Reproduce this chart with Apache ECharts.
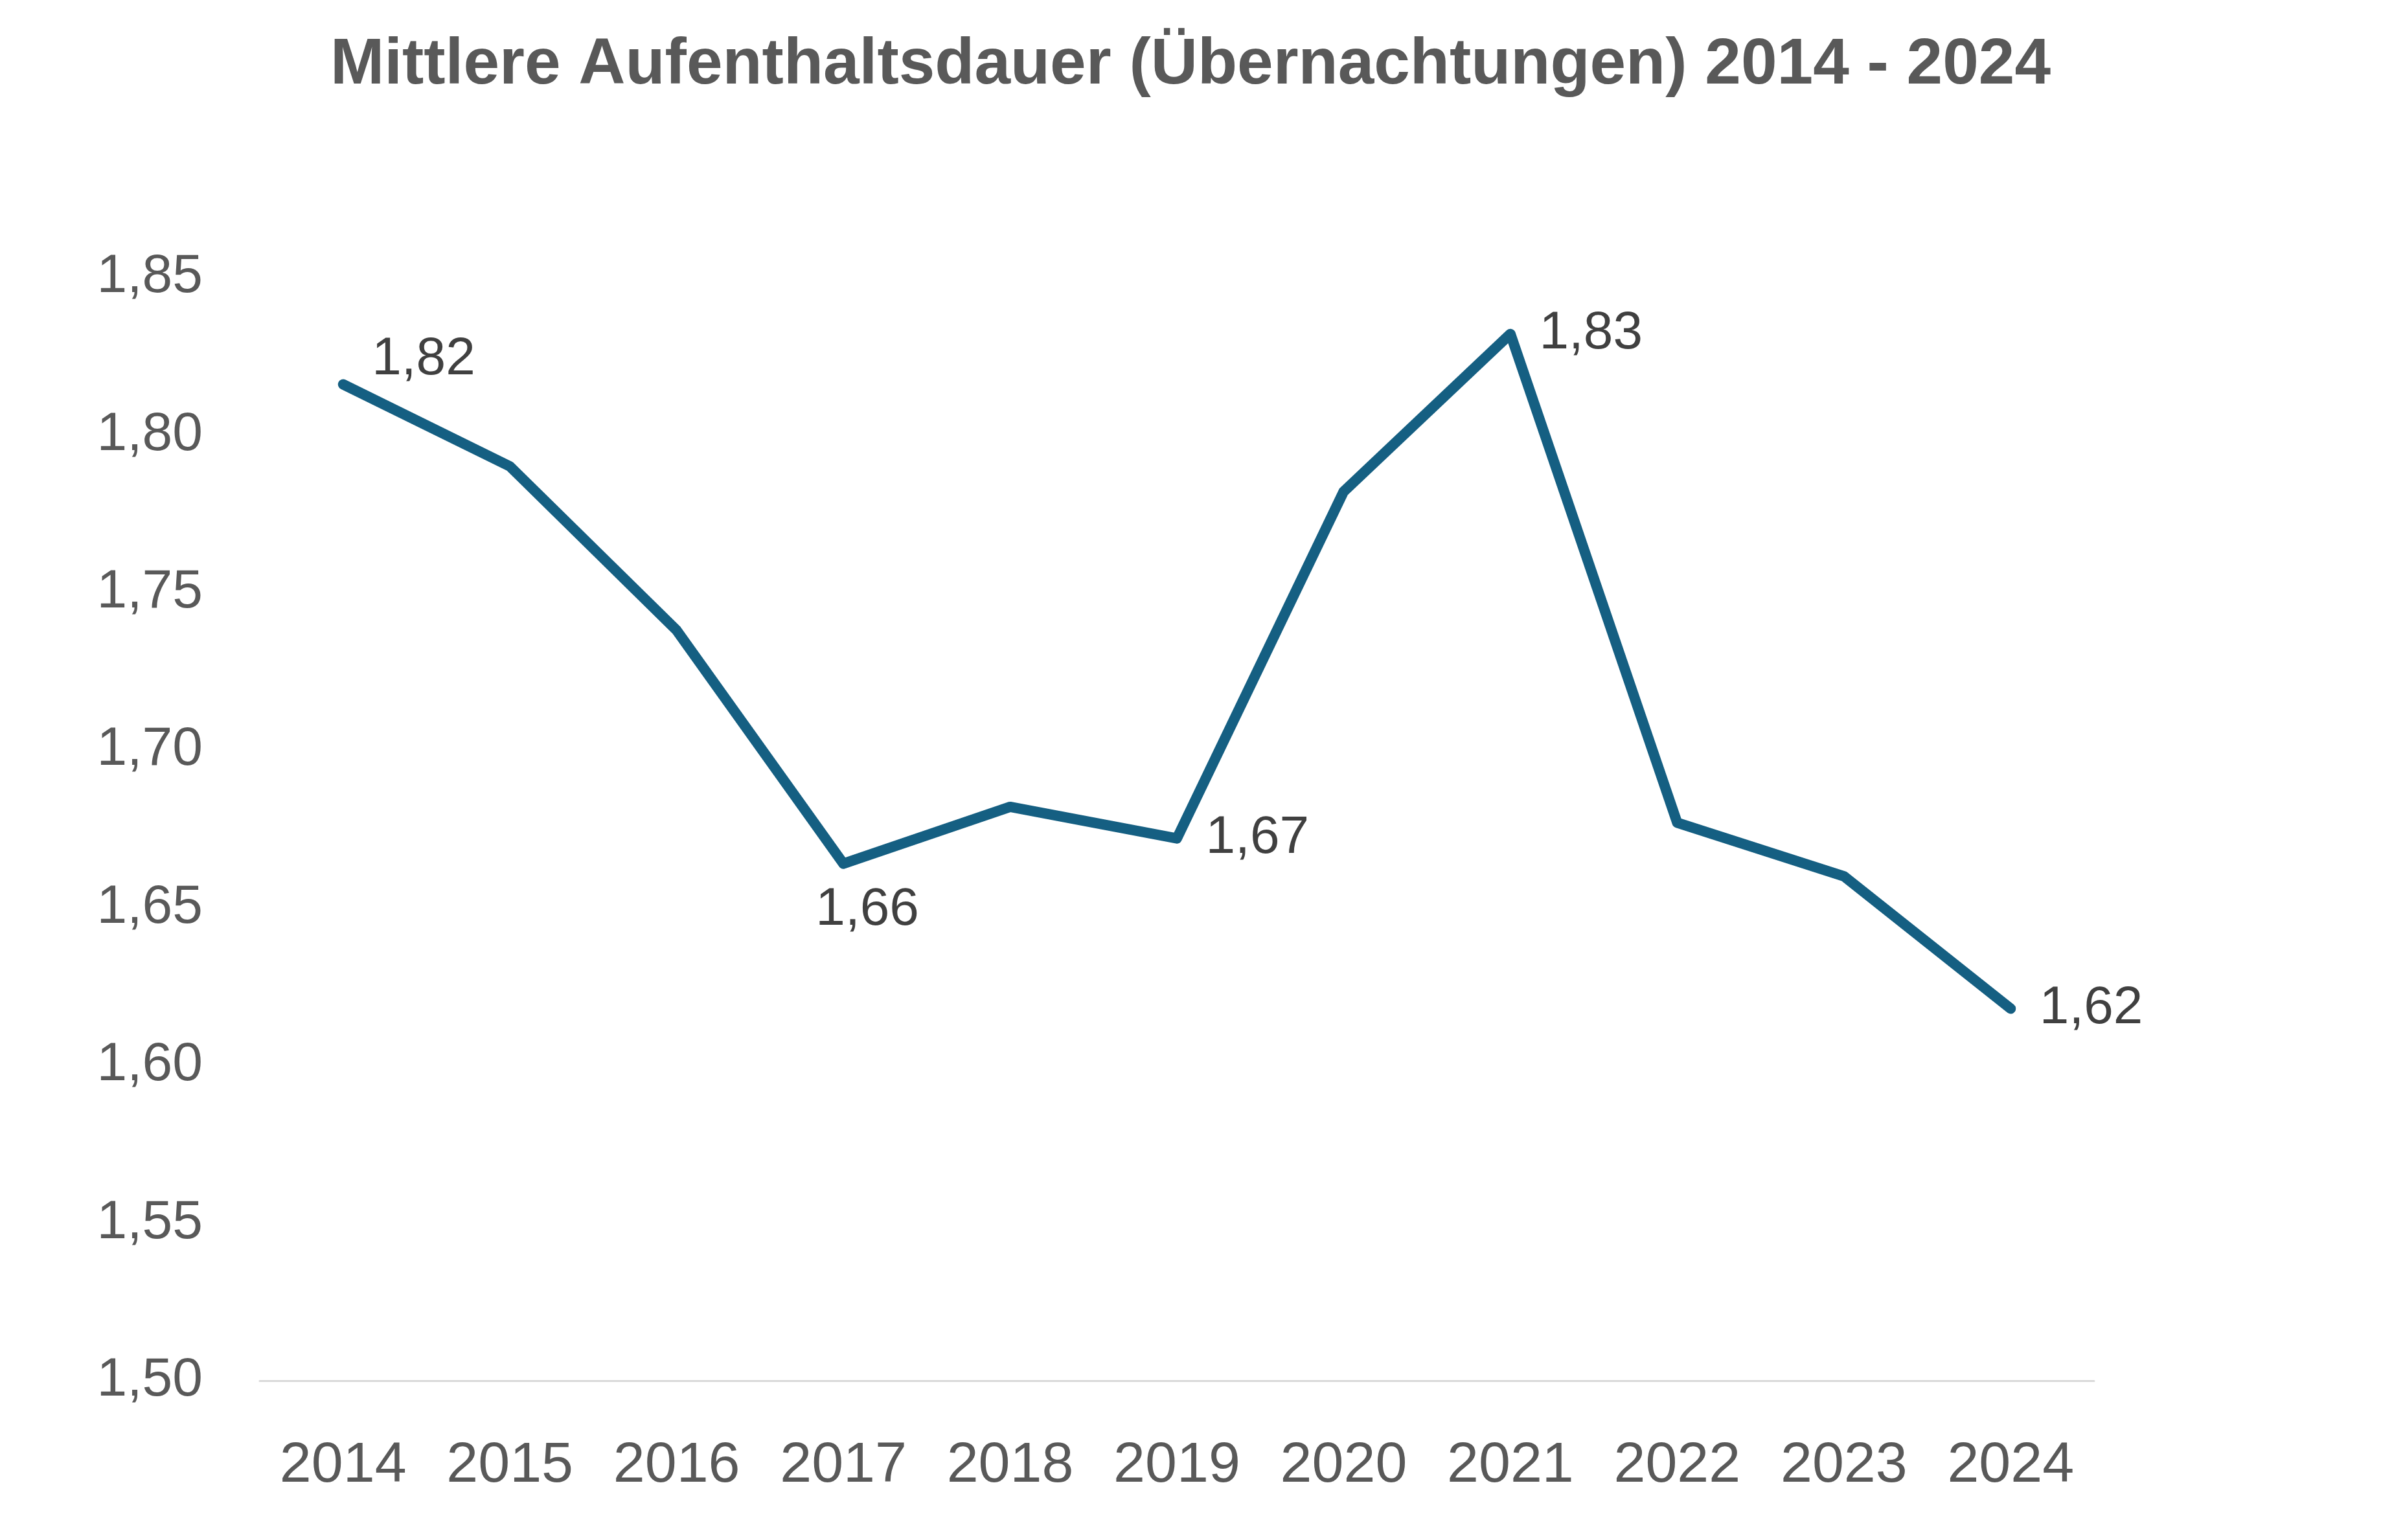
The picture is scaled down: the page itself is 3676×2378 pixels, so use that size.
<!DOCTYPE html>
<html>
<head>
<meta charset="utf-8">
<title>Mittlere Aufenthaltsdauer</title>
<script src="https://cdn.jsdelivr.net/npm/echarts@6/dist/echarts.min.js"></script>
<style>
  html, body { margin: 0; padding: 0; background: #ffffff; }
  #chart { width: 3676px; height: 2378px; }
</style>
</head>
<body>
<div id="chart"></div>
<script>
// Jahre und Werte
var years = ['2014', '2015', '2016', '2017', '2018', '2019', '2020', '2021', '2022', '2023', '2024'];
var stays = [1.816, 1.790, 1.738, 1.664, 1.682, 1.672, 1.782, 1.832, 1.677, 1.660, 1.618];
// welche Punkte eine Beschriftung bekommen
var labelled = ['2014', '2017', '2019', '2021', '2024'];
var yTicks = { min: 1.50, max: 1.85, step: 0.05 };

function comma(v) {
    return v.toFixed(2).replace('.', ',');
}

var labelFont = 'Liberation Sans, Arial, sans-serif';

// Lage der Beschriftungen je Jahr
function labelFor(year) {
    if (labelled.indexOf(year) < 0) {
        return { show: false };
    }
    var lab = {
        show: true,
        position: 'right',
        distance: 44,
        fontSize: 82,
        fontFamily: labelFont,
        color: '#404040',
        formatter: function (p) { return comma(p.value); }
    };
    if (year === '2014') {
        lab.offset = [0, -38];
    }
    if (year === '2017') {
        lab.position = 'bottom';
        lab.distance = 30;
        lab.offset = [37, 0];
    }
    return lab;
}

var seriesData = [];
for (var i = 0; i < years.length; i++) {
    seriesData.push({ value: stays[i], label: labelFor(years[i]) });
}

var myChart = echarts.init(document.getElementById('chart'));

var option = {
    backgroundColor: '#ffffff',
    animation: false,
    title: {
        text: 'Mittlere Aufenthaltsdauer (Übernachtungen) 2014 - 2024',
        left: 'center',
        top: 46,
        textStyle: {
            fontFamily: labelFont,
            fontWeight: 'bold',
            fontSize: 100,
            color: '#595959'
        }
    },
    grid: {
        left: 401,
        right: 443,
        top: 428,
        bottom: 246,
        containLabel: false
    },
    xAxis: {
        type: 'category',
        data: years,
        boundaryGap: true,
        axisLine: { show: true, lineStyle: { color: '#D9D9D9', width: 3 } },
        axisTick: { show: false },
        axisLabel: {
            margin: 88,
            fontSize: 88,
            fontFamily: labelFont,
            color: '#595959'
        },
        splitLine: { show: false }
    },
    yAxis: {
        type: 'value',
        min: yTicks.min,
        max: yTicks.max,
        interval: yTicks.step,
        axisLine: { show: false },
        axisTick: { show: false },
        splitLine: { show: false },
        axisLabel: {
            margin: 88,
            fontSize: 84,
            fontFamily: labelFont,
            color: '#595959',
            formatter: function (v) { return comma(v); }
        }
    },
    series: [
        {
            name: 'Aufenthaltsdauer',
            type: 'line',
            data: seriesData,
            symbol: 'circle',
            symbolSize: 1,
            showSymbol: true,
            smooth: false,
            itemStyle: { color: '#155F82' },
            lineStyle: {
                color: '#155F82',
                width: 16,
                cap: 'round',
                join: 'round'
            }
        }
    ]
};

myChart.setOption(option);
</script>
</body>
</html>
